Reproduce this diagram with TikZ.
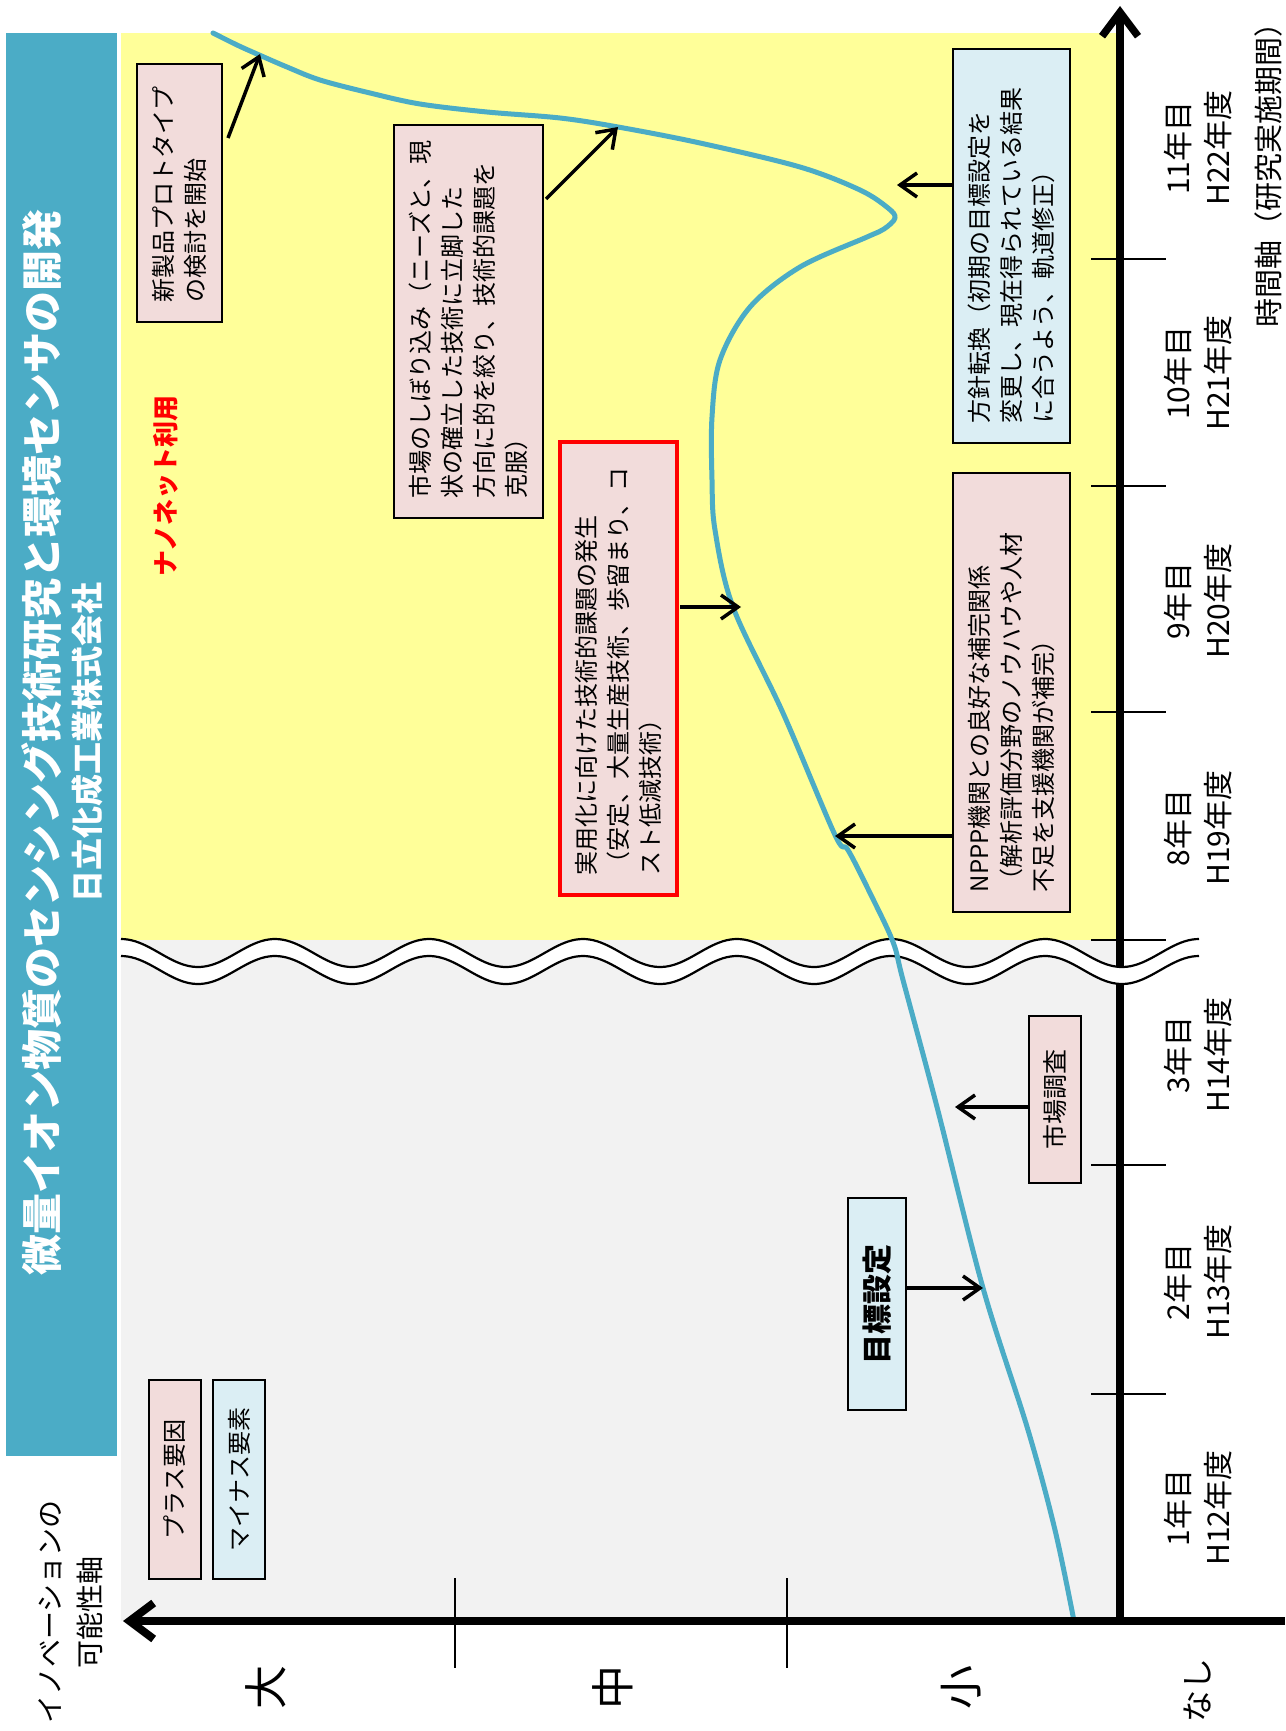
\documentclass[tikz,border=0pt]{standalone}
\usepackage{fontspec}
\setmainfont{Noto Sans CJK JP}
\usetikzlibrary{arrows.meta,calc}
\definecolor{curveblue}{HTML}{4BACC6}
\definecolor{bandblue}{HTML}{4BACC6}
\definecolor{yellowbg}{HTML}{FFFF99}
\definecolor{graybg}{HTML}{F2F2F2}
\definecolor{pinkbox}{HTML}{F2DCDB}
\definecolor{bluebox}{HTML}{DBEEF4}
\newcommand{\fsz}[2]{\fontsize{#1pt}{#2pt}\selectfont}
\newcommand{\wavetop}{953-14*cos(2.337662*(\x-121))}
\newcommand{\wavebot}{970-14*cos(2.337662*(\x-121))}
\begin{document}
\begin{tikzpicture}[x=1pt,y=-1pt,
  every node/.style={inner sep=0pt, outer sep=0pt},
  rbox/.style={draw=black, line width=1.8pt, rotate=90, align=left, inner ysep=0pt, inner xsep=20pt, font=\fsz{24}{32}},
  cbox/.style={draw=black, line width=1.8pt, rotate=90, align=center, font=\fsz{24}{30}},
  pinkfill/.style={fill=pinkbox},
  bluefill/.style={fill=bluebox},
  arr/.style={line width=3.5pt, -{Straight Barb[length=17pt,width=24pt]}},
  axisline/.style={line width=7.5pt, -{Straight Barb[length=24pt,width=36pt]}},
  tick/.style={line width=2.8pt},
  thintick/.style={line width=1.5pt},
  tlabel/.style={rotate=90, align=center, font=\fsz{30}{40}},
  vlabel/.style={rotate=90, font=\fsz{44}{50}},
  curve/.style={draw=curveblue, line width=5pt, line cap=round, line join=round},
  waveline/.style={line width=2.2pt}
]
\useasboundingbox (0,0) rectangle (1285,1731);
\fill[white] (0,0) rectangle (1285,1731);

% backgrounds
\fill[bandblue] (6,33) rectangle (117,1456);
\fill[yellowbg] (121,33) rectangle (1120,940);
\fill[graybg] (121,940) rectangle (1120,1621);

% title
\node[rotate=90, text=white, font=\fsz{41}{46}\bfseries] (title) at (42,742) {微量イオン物質のセンシング技術研究と環境センサの開発};
\node[rotate=90, text=white, font=\fsz{32}{36}\bfseries] (subtitle) at (87,742) {日立化成工業株式会社};

% vertical (time) axis
\coordinate (origin) at (1120,1621);
\coordinate (ytip) at (1120,6);
\draw[axisline] (origin) -- (ytip);
\foreach \yy in {259,486,712,940,1165,1394} \draw[tick] (1091,\yy) -- (1166,\yy);

% wave break
\fill[white] plot[domain=121:1199, samples=300] (\x,{\wavetop}) -- plot[domain=1199:121, samples=300] (\x,{\wavebot}) -- cycle;
\draw[waveline] plot[domain=121:1199, samples=300] (\x,{\wavetop});
\draw[waveline] plot[domain=121:1199, samples=300] (\x,{\wavebot});

% curve
\draw[curve] plot[smooth, tension=0.55] coordinates {
 (213,33) (237,45) (257,54) (287,67) (320,80) (370,93) (420,104) (487,112) (560,118) (618,127)
 (700,143) (800,167) (860,190) (888,208) (895,218) (884,229) (867,237) (800,267) (750,307)
 (720,360) (712,417) (712,480) (715,530) (733,607) (783,713) (835,835) (848,850) (870,893)
 (893,942) (903,980) (937,1107) (983,1288) (1028,1430) (1055,1530) (1074,1621)};

% horizontal (innovation) axis
\coordinate (xend) at (1285,1621);
\coordinate (xtip) at (123,1621);
\draw[axisline, line width=8pt] (xend) -- (xtip);
\draw[thintick] (455,1578) -- (455,1668);
\draw[thintick] (787,1578) -- (787,1668);

% boxes
\node[rbox, pinkfill, minimum width=258pt, minimum height=85pt, text width=218pt] (b1) at (179.5,193)
  {新製品プロトタイプ\\の検討を開始};
\node[rbox, pinkfill, minimum width=393pt, minimum height=149pt, text width=353pt] (b2) at (468.5,321.5)
  {市場のしぼり込み（ニーズと、現\\状の確立した技術に立脚した\\方向に的を絞り、技術的課題を\\克服）};
\node[rbox, pinkfill, draw=red, line width=4pt, minimum width=453pt, minimum height=117pt, text width=413pt] (b3) at (618.5,668.5)
  {実用化に向けた技術的課題の発生\\（安定、大量生産技術、歩留まり、コ\\スト低減技術）};
\node[rbox, bluefill, minimum width=394pt, minimum height=117pt, text width=354pt] (b4) at (1011.5,246)
  {方針転換（初期の目標設定を\\変更し、現在得られている結果\\に合うよう、軌道修正）};
\node[rbox, pinkfill, minimum width=439pt, minimum height=117pt, text width=399pt] (b5) at (1011.5,692.5)
  {NPPP機関との良好な補完関係\\（解析評価分野のノウハウや人材\\不足を支援機関が補完）};
\node[cbox, pinkfill, minimum width=167pt, minimum height=52pt, font=\fsz{25}{30}] (b6) at (1055,1099.5) {市場調査};
\node[cbox, bluefill, minimum width=212pt, minimum height=58pt, font=\fsz{30}{36}\bfseries] (b7) at (877,1304) {目標設定};
\node[cbox, pinkfill, minimum width=199pt, minimum height=52pt] (b8) at (175,1479.5) {プラス要因};
\node[cbox, bluefill, minimum width=199pt, minimum height=52pt] (b9) at (239,1479.5) {マイナス要素};

\node[rotate=90, text=red, font=\fsz{26}{30}\bfseries] (nano) at (166,486) {ナノネット利用};

% arrows
\coordinate (s1) at (228,138); \coordinate (t1) at (260,54);
\coordinate (s2) at (546,199); \coordinate (t2) at (618,127);
\coordinate (t3) at (741,607);
\coordinate (t4) at (835,836);
\coordinate (t5) at (897,185);
\coordinate (t6) at (955,1107);
\coordinate (t7) at (983,1288);
\draw[arr] (s1) -- (t1);
\draw[arr] (s2) -- (t2);
\draw[arr] ([xshift=3pt]b3.south |- t3) -- (t3);
\draw[arr] (b5.north |- t4) -- (t4);
\draw[arr] (b4.north |- t5) -- (t5);
\draw[arr] (b6.north |- t6) -- (t6);
\draw[arr] (b7.south |- t7) -- (t7);

% time labels
\node[tlabel] (y1) at (1198,1508) {1年目\\H12年度};
\node[tlabel] (y2) at (1198,1282) {2年目\\H13年度};
\node[tlabel] (y3) at (1198,1055) {3年目\\H14年度};
\node[tlabel] (y8) at (1198,828) {8年目\\H19年度};
\node[tlabel] (y9) at (1198,601) {9年目\\H20年度};
\node[tlabel] (y10) at (1198,373) {10年目\\H21年度};
\node[tlabel] (y11) at (1198,148) {11年目\\H22年度};
\node[rotate=90, font=\fsz{29}{32}] (taxis) at (1268,168) {時間軸（研究実施期間）};

% innovation labels
\node[rotate=90, align=center, font=\fsz{28}{40}] (iaxis) at (71,1612) {イノベーションの\\可能性軸};
\node[vlabel] (lbig) at (266,1687) {大};
\node[vlabel] (lmid) at (613,1687) {中};
\node[vlabel] (lsmall) at (961,1687) {小};
\node[rotate=90, font=\fsz{32}{36}] (lnone) at (1197,1690) {なし};
\end{tikzpicture}
\end{document}
